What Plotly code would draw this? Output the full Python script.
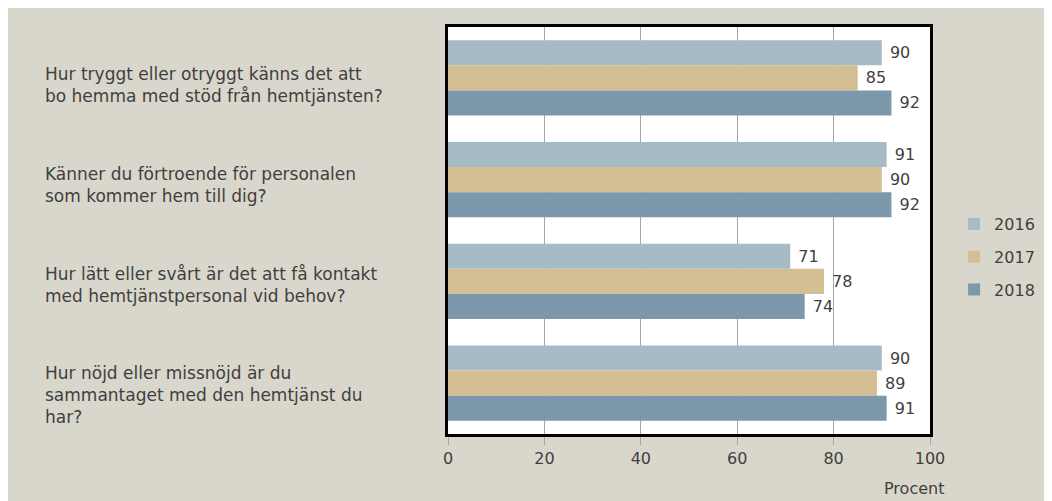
import plotly.graph_objects as go

questions = [
    "Hur tryggt eller otryggt känns det att<br>bo hemma med stöd från hemtjänsten?",
    "Känner du förtroende för personalen<br>som kommer hem till dig?",
    "Hur lätt eller svårt är det att få kontakt<br>med hemtjänstpersonal vid behov?",
    "Hur nöjd eller missnöjd är du<br>sammantaget med den hemtjänst du<br>har?",
]
cat_ids = ["q1", "q2", "q3", "q4"]
years = ["2016", "2017", "2018"]
values_2016 = [90, 91, 71, 90]
values_2017 = [85, 90, 78, 89]
values_2018 = [92, 92, 74, 91]
x_ticks = [0, 20, 40, 60, 80, 100]

series = [values_2016, values_2017, values_2018]
colors = ["#a7bbc6", "#d4be94", "#7c98aa"]

BG = "#d9d7cb"
TXT = "#3f3f3f"
FONT = "DejaVu Sans"

fig = go.Figure()
for yr, vals, col in zip(years, series, colors):
    fig.add_trace(go.Bar(
        y=cat_ids, x=vals, name=yr, orientation="h",
        marker=dict(color=col, line=dict(width=0)),
        text=["\u00a0" + str(v) for v in vals], textposition="outside",
        textfont=dict(family=FONT, size=16, color=TXT),
        constraintext="none", cliponaxis=False,
        legendgroup=yr,
    ))

# category labels, left aligned
shifts = [-7, -5, -4, -12]
for cid, q, s in zip(cat_ids, questions, shifts):
    fig.add_annotation(
        x=-0.8412, xref="paper", y=cid, yref="y", yshift=s,
        text=q, showarrow=False, xanchor="left", yanchor="middle", align="left",
        font=dict(family=FONT, size=17, color=TXT),
    )

fig.add_annotation(
    x=0.967, xref="paper", y=-0.1327, yref="paper", text="Procent",
    showarrow=False, xanchor="center", yanchor="middle",
    font=dict(family=FONT, size=16, color=TXT),
)

fig.update_layout(
    width=1044, height=493,
    margin=dict(l=440, r=119, t=19, b=67),
    paper_bgcolor=BG, plot_bgcolor="white",
    barmode="group", bargap=0.26, bargroupgap=0,
    font=dict(family=FONT, size=16, color=TXT),
    showlegend=True,
    legend=dict(x=1.05, xanchor="left", y=0.435, yanchor="middle",
                font=dict(family=FONT, size=16, color=TXT),
                bgcolor="rgba(0,0,0,0)", tracegroupgap=9, itemwidth=30),
)
fig.update_xaxes(
    range=[0, 100], tickvals=x_ticks, ticktext=[str(t) for t in x_ticks],
    showgrid=True, gridcolor="#a6a6a6", gridwidth=1,
    ticks="outside", ticklen=8, tickcolor="#a6a6a6", tickwidth=1,
    showline=True, linecolor="black", linewidth=3, mirror=True,
    zeroline=False, tickfont=dict(family=FONT, size=16, color=TXT),
)
fig.update_yaxes(
    categoryorder="array", categoryarray=cat_ids, autorange="reversed",
    showticklabels=False, ticks="", showgrid=False,
    showline=True, linecolor="black", linewidth=3, mirror=True,
)

fig.write_html("out.html")
